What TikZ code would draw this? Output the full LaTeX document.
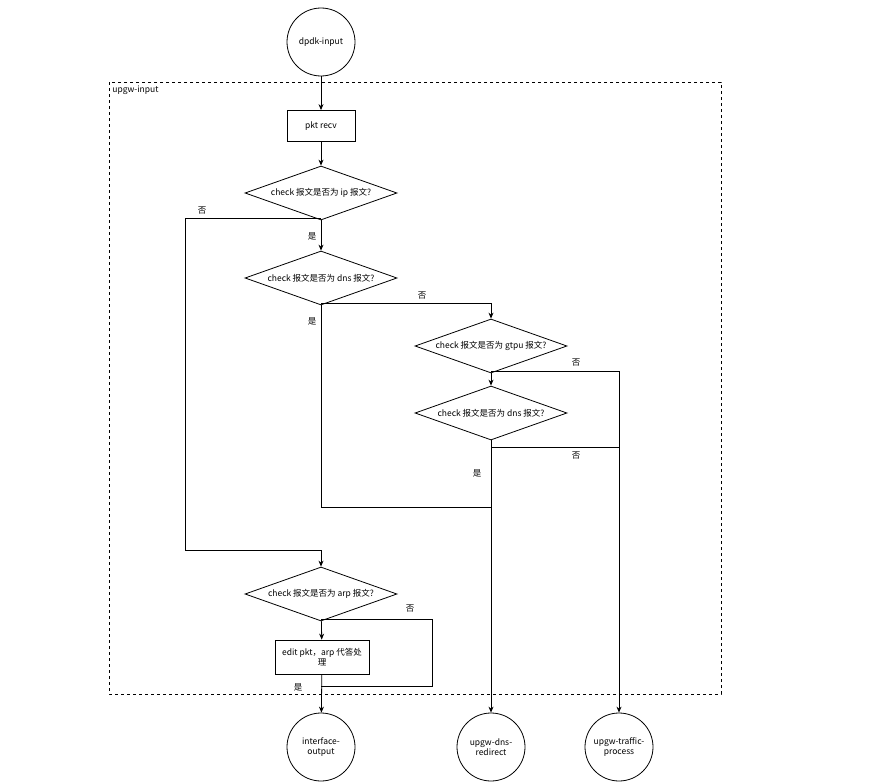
\documentclass[tikz,border=0pt]{standalone}
\usepackage{fontspec}
\setmainfont{Noto Sans CJK SC}
\usetikzlibrary{shapes.geometric}
\usetikzlibrary{arrows.meta}
\begin{document}
\begin{tikzpicture}[
  x=1pt, y=-1pt,
  font=\fontsize{8.5}{10}\selectfont,
  every path/.style={line width=0.8pt},
  term/.style={draw, circle, minimum size=68pt, inner sep=0pt, align=center},
  proc/.style={draw, minimum height=31pt, align=center, inner sep=1pt},
  check/.style={draw, diamond, aspect=2.8, minimum width=152pt, minimum height=54pt, inner sep=0pt},
  arrow/.style={-{Stealth[length=6pt,width=5pt]}},
  line/.style={draw},
  lbl/.style={inner sep=0pt}
]
\useasboundingbox (0,0) rectangle (870,784);

% frame
\draw[dashed] (109,82) rectangle (721,694);
\node[lbl, anchor=north west] (frame) at (112,86) {upgw-input};

% terminals
\node[term] (dpdk) at (321,42) {dpdk-input};
\node[term] (ifout) at (321,747) {interface-\\output};
\node[term] (dnsred) at (491,747) {upgw-dns-\\redirect};
\node[term] (traffic) at (619,747) {upgw-traffic-\\process};

% steps
\node[proc, minimum width=68pt] (recv) at (321,126) {pkt recv};
\node[check] (ip) at (321,193) {check 报文是否为 ip 报文?};
\node[check] (dns) at (321,278) {check 报文是否为 dns 报文?};
\node[check] (gtpu) at (491,346) {check 报文是否为 gtpu 报文?};
\node[check] (dns2) at (491,413) {check 报文是否为 dns 报文?};
\node[check] (arp) at (321,594) {check 报文是否为 arp 报文?};
\node[proc, minimum width=94pt, minimum height=34pt] (edit) at (322,657) {edit pkt，arp 代答处\\理};

% bends
\coordinate (ipno) at (321,218);
\coordinate (dnsno) at (321,303);
\coordinate (gtpuno) at (491,371);
\coordinate (dns2no) at (491,447);
\coordinate (dnsyes) at (321,507);
\coordinate (arpno) at (321,619);
\coordinate (arpjoin) at (321,686);

\draw[arrow] (dpdk) -- (recv);
\draw[arrow] (recv) -- (ip);
\draw[arrow] (ip) -- (dns);
\draw[line] (ipno) -| (185,550) -- (321,550);
\draw[line] (dnsno) -- (491,303);
\draw[arrow] (491,303) -- (gtpu);
\draw[line] (dns) -- (dnsyes) -- (491,507);
\draw[arrow] (gtpu) -- (dns2);
\draw[line] (gtpuno) -| (619,447);
\draw[arrow] (619,447) -- (traffic);
\draw[line] (dns2no) -- (619,447);
\draw[arrow] (dns2) -- (dnsred);
\draw[arrow] (321,550) -- (arp);
\draw[arrow] (arp) -- (edit);
\draw[line] (arpno) -| (432,686) -- (arpjoin);
\draw[arrow] (edit) -- (ifout);

% labels
\node[lbl] (l1) at (202,211) {否};
\node[lbl] (l2) at (312,236) {是};
\node[lbl] (l3) at (422,296) {否};
\node[lbl] (l4) at (312,321) {是};
\node[lbl] (l5) at (576,363) {否};
\node[lbl] (l6) at (576,456) {否};
\node[lbl] (l7) at (477,473) {是};
\node[lbl] (l8) at (410,609) {否};
\node[lbl] (l9) at (298,687) {是};
\end{tikzpicture}
\end{document}
